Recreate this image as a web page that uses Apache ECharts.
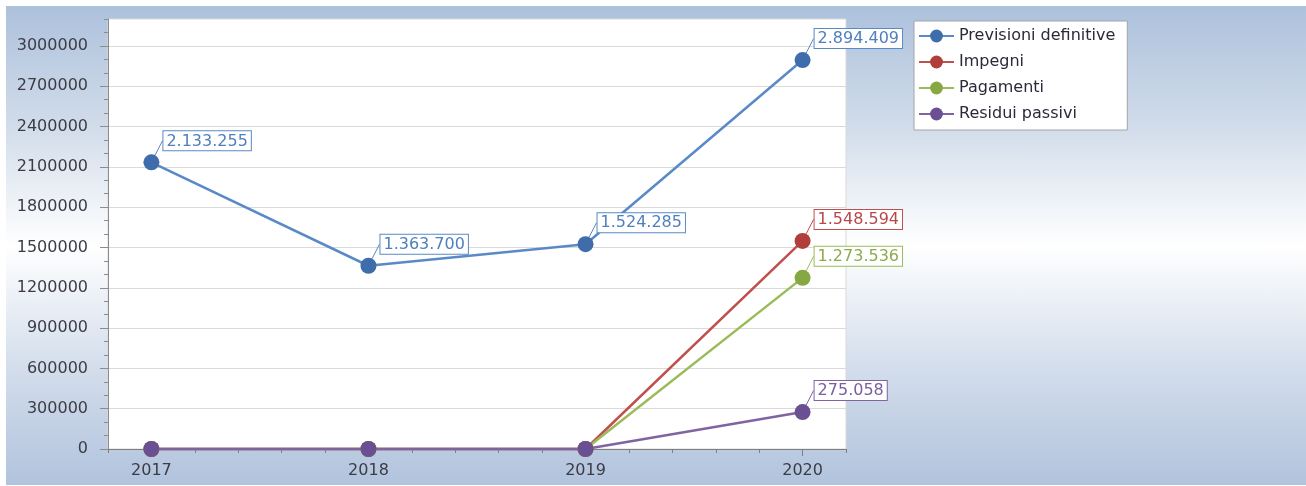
<!DOCTYPE html>
<html>
<head>
<meta charset="utf-8">
<script src="https://cdn.jsdelivr.net/npm/echarts@6/dist/echarts.min.js"></script>
<style>
  html, body { margin: 0; padding: 0; background: #ffffff; }
  #bg { position: absolute; left: 6px; top: 6px; width: 1300px; height: 479px;
        background: linear-gradient(to bottom, #adc1dc 0%, #d1dcea 25%, #ffffff 50%, #d4deec 75%, #b1c3dd 100%); }
  #chart { position: absolute; left: 0; top: 0; width: 1306px; height: 486px; }
</style>
</head>
<body>
<div id="bg"></div>
<div id="chart"></div>
<script>
const years = [2017, 2018, 2019, 2020];
const seriesNames = ['Previsioni definitive', 'Impegni', 'Pagamenti', 'Residui passivi'];
const previsioni = [2133255, 1363700, 1524285, 2894409];
const impegni = [0, 0, 0, 1548594];
const pagamenti = [0, 0, 0, 1273536];
const residui = [0, 0, 0, 275058];
const yTickLabels = [0, 300000, 600000, 900000, 1200000, 1500000, 1800000, 2100000, 2400000, 2700000, 3000000];

const FONT = 'DejaVu Sans';
const lineColors = ['#5a8ac6', '#c0504d', '#9bbb59', '#8064a2'];
const textColors = ['#4f7fbd', '#b8474a', '#8aac4e', '#7a5e9e'];
const dotColors = ['#3f6caa', '#b03e3b', '#86a843', '#6a4f92'];
const valuesList = [previsioni, impegni, pagamenti, residui];

function fmt(v) {
  return String(v).replace(/\B(?=(\d{3})+(?!\d))/g, '.');
}

const series = seriesNames.map((name, i) => ({
  name: name,
  type: 'line',
  xAxisIndex: 0,
  yAxisIndex: 0,
  symbol: 'circle',
  symbolSize: 16,
  clip: false,
  lineStyle: { color: lineColors[i], width: 2.5 },
  itemStyle: { color: dotColors[i] },
  labelLine: { show: true, lineStyle: { color: lineColors[i], width: 1 } },
  data: years.map((y, j) => {
    const v = valuesList[i][j];
    return {
      value: [y, v],
      label: {
        show: v !== 0,
        position: [20, -23],
        formatter: (p) => fmt(p.value[1]),
        color: textColors[i],
        fontFamily: FONT,
        fontSize: 16,
        lineHeight: 16,
        backgroundColor: '#ffffff',
        borderColor: lineColors[i],
        borderWidth: 1,
        padding: [2, 3, 1, 3]
      }
    };
  })
}));

const chart = echarts.init(document.getElementById('chart'), null, { renderer: 'canvas' });
chart.setOption({
  animation: false,
  backgroundColor: 'transparent',
  grid: {
    left: 108, right: 460, top: 19, bottom: 37,
    show: true, backgroundColor: '#ffffff', borderColor: '#d9d9d9', borderWidth: 1
  },
  legend: {
    orient: 'vertical',
    left: 914, top: 21,
    data: seriesNames,
    itemWidth: 35, itemHeight: 16, itemGap: 10,
    padding: [7, 12, 8, 4],
    backgroundColor: '#ffffff',
    borderColor: '#a0a4aa', borderWidth: 1,
    textStyle: { fontFamily: FONT, fontSize: 16, color: '#2a2a3a' }
  },
  xAxis: [
    {
      type: 'value', min: 2016.8, max: 2020.2, interval: 0.2,
      axisLine: { show: true, lineStyle: { color: '#7f7f7f', width: 1 } },
      axisTick: { show: true, length: 4, lineStyle: { color: '#7f7f7f' } },
      splitLine: { show: false },
      axisLabel: {
        margin: 14, fontFamily: FONT, fontSize: 16, color: '#3c3c46',
        formatter: (v) => (Math.abs(v - Math.round(v)) < 1e-6 && years.indexOf(Math.round(v)) >= 0) ? String(Math.round(v)) : ''
      }
    },
    {
      type: 'value', min: 2016.8, max: 2020.2, position: 'bottom',
      axisLine: { show: false },
      axisTick: { show: true, length: 7, customValues: years, lineStyle: { color: '#7f7f7f' } },
      axisLabel: { show: false },
      splitLine: { show: false }
    }
  ],
  yAxis: [
    {
      type: 'value', min: 0, max: 3200000, interval: 100000,
      axisLine: { show: true, lineStyle: { color: '#8c8c8c', width: 1 } },
      axisTick: { show: true, length: 4, lineStyle: { color: '#8c8c8c' } },
      splitLine: { show: false },
      axisLabel: {
        margin: 20, fontFamily: FONT, fontSize: 16, color: '#3c3c46',
        formatter: (v) => yTickLabels.indexOf(Math.round(v)) >= 0 ? String(Math.round(v)) : ''
      }
    },
    {
      type: 'value', min: 0, max: 3200000, position: 'left',
      axisLine: { show: false },
      axisTick: { show: true, length: 8, customValues: yTickLabels, lineStyle: { color: '#8c8c8c' } },
      axisLabel: { show: false },
      splitLine: { show: true, lineStyle: { color: '#dadada', width: 1 } }
    }
  ],
  series: series
});
</script>
</body>
</html>
